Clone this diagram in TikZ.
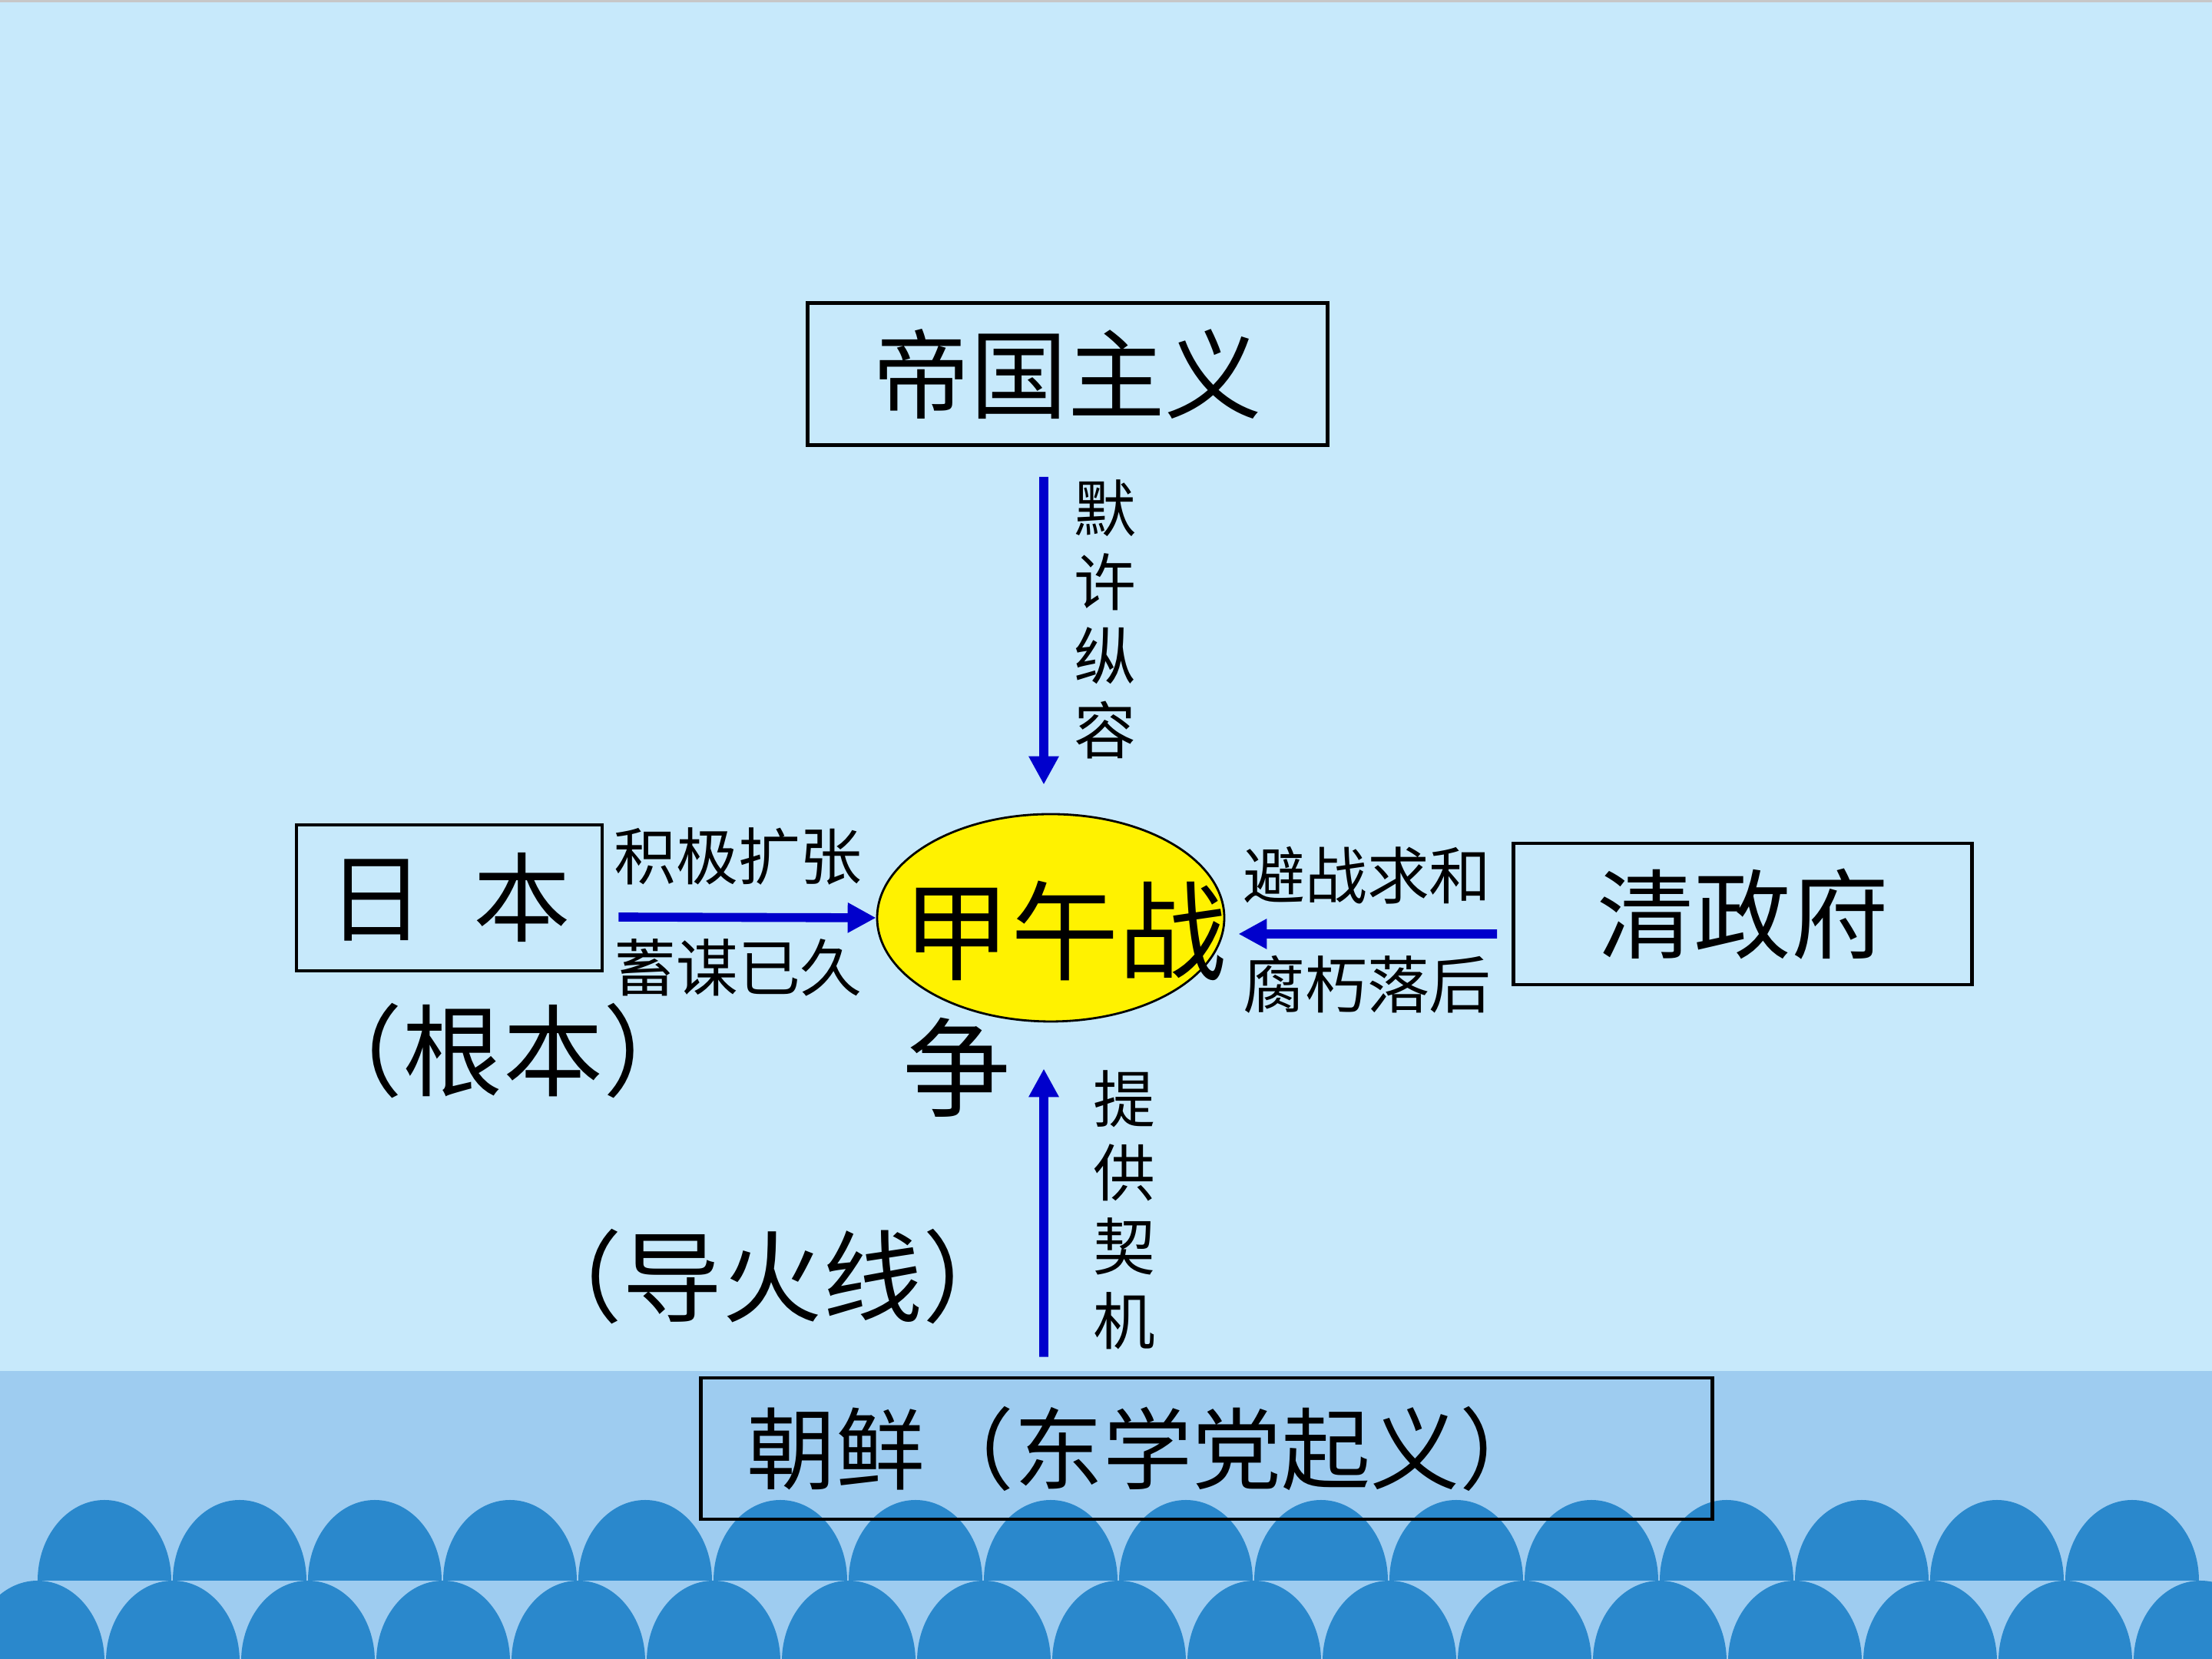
\documentclass[tikz,border=0pt]{standalone}
\usepackage{fontspec}
\newfontfamily\cjk{Noto Sans CJK SC}
\usetikzlibrary{arrows.meta,shapes.geometric}

\begin{document}
\begin{tikzpicture}[
    font=\cjk,
    box/.style={draw=black, line width=1.3pt, inner sep=0pt, font=\cjk\fontsize{36}{43}\selectfont},
    remark/.style={font=\cjk\fontsize{37}{44}\selectfont, inner sep=0pt},
    note/.style={font=\cjk\fontsize{23}{27.4}\selectfont, inner sep=0pt, align=center},
    warfont/.style={font=\cjk\fontsize{40}{48}\selectfont, inner sep=0pt},
    flow/.style={draw=ArrowBlue, line width=3.3pt, -{Triangle[length=10.5pt, width=10.5pt]}},
]
    \definecolor{SkyBlue}{RGB}{199,233,251}
    \definecolor{SeaBlue}{RGB}{158,204,240}
    \definecolor{WaveBlue}{RGB}{42,136,204}
    \definecolor{ArrowBlue}{RGB}{0,0,204}

    % Background: sky, sea band and two rows of waves
    \useasboundingbox (0,0) rectangle (28.8,21.6);
    \fill[SkyBlue] (0,0) rectangle (28.8,21.6);
    \fill[black!22] (0,21.57) rectangle (28.8,21.6);
    \fill[SeaBlue] (0,0) rectangle (28.8,3.75);
    \begin{scope}
        \clip (0,0) rectangle (28.8,21.6);
        \foreach \i in {0,...,15}
            \fill[WaveBlue] ({0.49+1.76*\i},1.02)
                arc[start angle=180, end angle=0, x radius=0.87, y radius=1.05] -- cycle;
        \foreach \i in {0,...,16}
            \fill[WaveBlue] ({-0.38+1.76*\i},-0.03)
                arc[start angle=180, end angle=0, x radius=0.87, y radius=1.05] -- cycle;
    \end{scope}

    % Boxes
    \node[box, minimum width=6.77cm, minimum height=1.85cm] (imp) at (13.90,16.73) {帝国主义};
    \node[box, minimum width=3.98cm, minimum height=1.90cm] (jp) at (5.85,9.91) {日\hspace{0.5em}本};
    \node[box, minimum width=5.97cm, minimum height=1.84cm] (qing) at (22.69,9.70) {清政府};
    \node[box, font=\cjk\fontsize{33}{40}\selectfont, minimum height=1.84cm,
        text width=11.97cm, inner xsep=0.6cm, align=left] (kr) at (15.71,2.74) {朝鲜（东学党起义）};

    % The war in the middle
    \node[draw=black, line width=0.8pt, fill=yellow, ellipse, inner sep=0pt,
        minimum width=4.52cm, minimum height=2.70cm] (war) at (13.68,9.65) {};
    \node[warfont, anchor=base west] (warA) at (11.75,8.94) {甲午战};
    \node[warfont, anchor=base west] (warB) at ([yshift=-1.78cm]warA.base west) {争};

    % Remarks
    \node[remark] (jpnote) at (6.55,7.92) {（根本）};
    \node[remark] (krnote) at (10.06,4.98) {（导火线）};

    % Arrows
    \draw[flow] ([xshift=-0.31cm, yshift=-0.39cm]imp.south) -- ([xshift=-0.09cm, yshift=0.37cm]war.north);
    \draw[flow] ([xshift=0.19cm, yshift=-0.25cm]jp.east) -- (war.west);
    \draw[flow] ([xshift=-0.19cm, yshift=-0.26cm]qing.west) -- ([xshift=0.17cm, yshift=-0.21cm]war.east);
    \draw[flow] ([xshift=-2.12cm, yshift=0.25cm]kr.north) -- ([xshift=-0.09cm, yshift=-0.60cm]war.south);

    % Arrow labels
    \node[note] (jpup) at (9.61,10.45) {积极扩张};
    \node[note] (jpdown) at (9.61,9.00) {蓄谋已久};
    \node[note] (qingup) at (17.80,10.20) {避战求和};
    \node[note] (qingdown) at (17.80,8.78) {腐朽落后};
    \node[note] (impside) at (14.39,13.54) {默\\许\\纵\\容};
    \node[note] (krside) at (14.64,5.85) {提\\供\\契\\机};
\end{tikzpicture}
\end{document}
